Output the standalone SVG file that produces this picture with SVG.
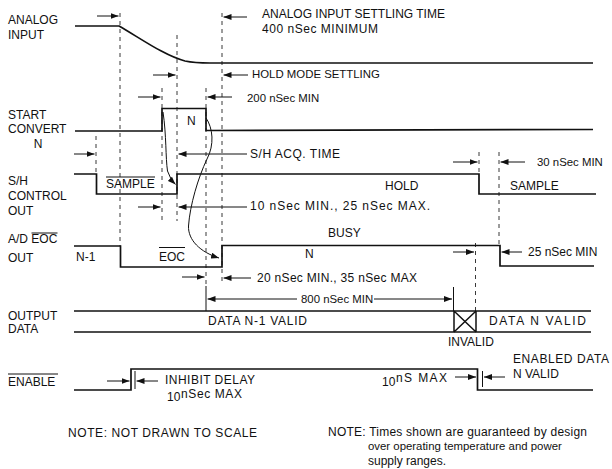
<svg xmlns="http://www.w3.org/2000/svg" width="612" height="469" viewBox="0 0 612 469">
<defs>
<marker id="ah" markerUnits="userSpaceOnUse" markerWidth="8" markerHeight="6" refX="8" refY="3" orient="auto">
<path d="M0,0 L8,3 L0,6 z" fill="#111"/>
</marker>
<style>
text{font-family:"Liberation Sans",Arial,Helvetica,sans-serif;font-size:12px;fill:#111}
.sm{font-size:11.4px}
.sig{fill:none;stroke:#111;stroke-width:1.7}
.dash{fill:none;stroke:#222;stroke-width:0.9;stroke-dasharray:4 4}
.arr{fill:none;stroke:#111;stroke-width:1;marker-end:url(#ah)}
.thin{fill:none;stroke:#111;stroke-width:1}
.ov{stroke:#111;stroke-width:1}
</style>
</defs>
<rect width="612" height="469" fill="#fff"/>

<g id="labels">
<text x="8" y="24">ANALOG</text>
<text x="8" y="38.5">INPUT</text>
<text x="8" y="118.5">START</text>
<text x="8" y="133">CONVERT</text>
<text x="38" y="148" text-anchor="middle">N</text>
<text x="8" y="185">S/H</text>
<text x="8" y="200">CONTROL</text>
<text x="8" y="215">OUT</text>
<text x="8" y="243">A/D EOC</text>
<line class="ov" x1="31.5" y1="233" x2="57.5" y2="233"/>
<text x="8" y="262">OUT</text>
<text x="8" y="320">OUTPUT</text>
<text x="8" y="333">DATA</text>
<text x="8" y="386">ENABLE</text>
<line class="ov" x1="8" y1="374" x2="58" y2="374"/>
</g>

<g id="dashed-guides">
<line class="dash" x1="96" y1="136" x2="96" y2="174"/>
<line class="dash" x1="120" y1="13" x2="120" y2="246"/>
<line class="dash" x1="162" y1="88" x2="162" y2="221"/>
<line class="dash" x1="177" y1="35" x2="177" y2="221"/>
<line class="dash" x1="206" y1="88" x2="206" y2="286"/>
<line class="dash" x1="222" y1="13" x2="222" y2="285"/>
<line class="dash" x1="479" y1="152" x2="479" y2="174"/>
<line class="dash" x1="499" y1="152" x2="499" y2="245"/>
<line class="dash" x1="475.5" y1="243" x2="475.5" y2="311"/>
</g>

<g id="analog-input">
<path class="sig" d="M75,26 L119,26 C140,38 165,56 185,61 C192,62.5 200,63 210,63 L593,63"/>
</g>

<g id="start-convert">
<path class="sig" d="M75,131 L162,131 L162,108.5 L206,108.5 L206,130.5 L593,129.5"/>
<text x="187" y="124.5">N</text>
</g>

<g id="sh-control">
<path class="sig" d="M74,174 L96.5,174 L96.5,194 L177,194 L177,174 L479,174 L479,194 L596,194"/>
<text x="106" y="188">SAMPLE</text>
<line class="ov" x1="106" y1="177" x2="155" y2="177"/>
<text x="385" y="190">HOLD</text>
<text x="510" y="190">SAMPLE</text>
</g>

<g id="ad-eoc">
<path class="sig" d="M74,246 L120.5,246 L120.5,267 L222,267 L222,245.5 L500,245.5 L500,266 L594,266"/>
<text x="76" y="261">N-1</text>
<text x="159" y="261">EOC</text>
<line class="ov" x1="159" y1="247.5" x2="185" y2="247.5"/>
<text x="305" y="257.5">N</text>
<text x="328" y="237">BUSY</text>
</g>

<g id="output-data">
<line class="sig" x1="74" y1="311" x2="591" y2="311"/>
<line class="sig" x1="74" y1="332" x2="591" y2="332"/>
<path class="thin" d="M454,311 L454,332 M476,311 L476,332 M454,311 L476,332 M476,311 L454,332" style="stroke-width:1.5"/>
<text x="208" y="325" textLength="99">DATA N-1 VALID</text>
<text x="489" y="325" textLength="97">DATA N VALID</text>
<text x="448" y="346">INVALID</text>
</g>

<g id="enable">
<path class="sig" d="M74,390 L131,390 L131,369 L477.5,369 L477.5,390 L593,390"/>
<line class="thin" x1="135" y1="371" x2="135" y2="389"/>
<line class="thin" x1="482.5" y1="371" x2="482.5" y2="387"/>
<text x="165" y="384" textLength="90">INHIBIT DELAY</text>
<text x="167" y="401">10</text>
<text x="181" y="398" textLength="61">nSec MAX</text>
<text x="382" y="386">10</text>
<text x="396" y="382" textLength="51">nS MAX</text>
<text x="513" y="363" textLength="96">ENABLED DATA</text>
<text x="513" y="378">N VALID</text>
</g>

<g id="connectors">
<path class="arr" d="M163,112 C166.5,135 165.5,158 167.5,171 Q170,179 175.5,184.5"/>
<path class="arr" d="M206,118 C213,128 214.5,145 207,159 C198,178 190,205 188.5,226 C188,240 200,252 219,258"/>
<line class="arr" x1="97" y1="16" x2="118.5" y2="16"/>
<line class="arr" x1="247" y1="17" x2="223.5" y2="17"/>
<line class="arr" x1="153" y1="75" x2="175.5" y2="75"/>
<line class="arr" x1="248" y1="75" x2="223.5" y2="75"/>
<line class="arr" x1="138" y1="97" x2="160.5" y2="97"/>
<line class="arr" x1="232" y1="97" x2="207.5" y2="97"/>
<line class="arr" x1="74" y1="154" x2="94.5" y2="154"/>
<line class="arr" x1="247" y1="154" x2="178.5" y2="154"/>
<line class="arr" x1="138" y1="207" x2="160.5" y2="207"/>
<line class="arr" x1="247" y1="207" x2="178.5" y2="207"/>
<line class="arr" x1="182" y1="277" x2="204.5" y2="277"/>
<line class="arr" x1="251" y1="278" x2="223.5" y2="278"/>
<line class="thin" x1="206" y1="286" x2="206" y2="311"/>
<line class="arr" x1="297" y1="299" x2="207.5" y2="299"/>
<line class="arr" x1="374" y1="299" x2="452" y2="299"/>
<line class="thin" x1="453.5" y1="287" x2="453.5" y2="311"/>
<line class="arr" x1="453" y1="162" x2="477.5" y2="162"/>
<line class="arr" x1="525" y1="162" x2="500.5" y2="162"/>
<line class="arr" x1="453" y1="252" x2="474" y2="252"/>
<line class="arr" x1="522" y1="252" x2="501.5" y2="252"/>
<line class="arr" x1="107" y1="381" x2="129.5" y2="381"/>
<line class="arr" x1="158" y1="381" x2="136.5" y2="381"/>
<line class="arr" x1="455" y1="377" x2="476" y2="377"/>
<line class="arr" x1="505" y1="377" x2="484" y2="377"/>
</g>

<g id="dimension-texts">
<text x="262" y="18">ANALOG INPUT SETTLING TIME</text>
<text x="262" y="33" textLength="116">400 nSec MINIMUM</text>
<text x="252" y="78" class="sm">HOLD MODE SETTLING</text>
<text x="247" y="102" class="sm">200 nSec MIN</text>
<text x="250" y="158" textLength="90">S/H ACQ. TIME</text>
<text x="537" y="166" class="sm">30 nSec MIN</text>
<text x="250" y="210" textLength="180">10 nSec MIN., 25 nSec MAX.</text>
<text x="528" y="256">25 nSec MIN</text>
<text x="257" y="282" textLength="160">20 nSec MIN., 35 nSec MAX</text>
<text x="301" y="303" class="sm">800 nSec MIN</text>
</g>

<g id="notes">
<text x="68" y="437" textLength="189">NOTE: NOT DRAWN TO SCALE</text>
<text x="328" y="436" textLength="259">NOTE: Times shown are guaranteed by design</text>
<text x="368" y="450" class="sm">over operating temperature and power</text>
<text x="368" y="465">supply ranges.</text>
</g>
</svg>
